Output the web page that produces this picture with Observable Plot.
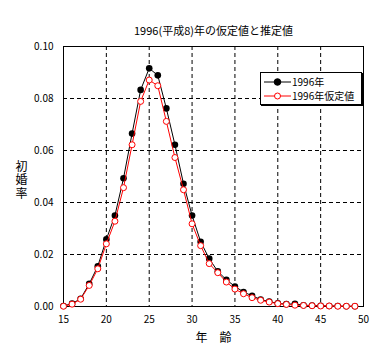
<!DOCTYPE html>
<html><head><meta charset="utf-8">
<script src="https://cdn.jsdelivr.net/npm/d3@7"></script>
<script src="https://cdn.jsdelivr.net/npm/@observablehq/plot@0.6"></script>
<style>
body{margin:0;background:#fff;}
#wrap{position:relative;width:378px;height:361px;font-family:"Noto Sans CJK JP",sans-serif;}
.legend{position:absolute;left:260px;top:72px;width:100px;height:31px;border:1px solid #000;box-shadow:1px 1px 0 #000;background:#fff;font-size:10px;}
.legend .row{position:absolute;left:0;height:14px;display:flex;align-items:center;}
.legend svg{display:block;flex:none;}
.legend span{margin-left:1px;white-space:nowrap;line-height:14px;display:block;}
</style></head><body><div id="wrap"></div>
<script>
const title = "1996(平成8)年の仮定値と推定値";
const yLabel = "初婚率";
const xLabel = "年　齢";
const seriesNames = ["1996年", "1996年仮定値"];
const ages = [15,16,17,18,19,20,21,22,23,24,25,26,27,28,29,30,31,32,33,34,35,36,37,38,39,40,41,42,43,44,45,46,47,48,49];
const v1996 = [0.0002,0.0011,0.0030,0.0087,0.0155,0.0258,0.0350,0.0493,0.0665,0.0833,0.0916,0.0889,0.0762,0.0622,0.0472,0.0350,0.0249,0.0184,0.0135,0.0103,0.0077,0.0056,0.0041,0.0027,0.0019,0.0012,0.0009,0.0010,0.0005,0.0004,0.0003,0.0002,0.0002,0.0001,0.0001];
const vAssumed = [0.0001,0.0009,0.0028,0.0081,0.0145,0.0241,0.0328,0.0457,0.0622,0.0789,0.0871,0.0849,0.0712,0.0573,0.0449,0.0318,0.0234,0.0165,0.0130,0.0094,0.0067,0.0049,0.0034,0.0024,0.0017,0.0011,0.0008,0.0005,0.0004,0.0003,0.0002,0.0002,0.0001,0.0001,0.0001];
const xTicks = [15,20,25,30,35,40,45,50];
const yTicks = [0,0.02,0.04,0.06,0.08,0.10];
const xGrid = [20,25,30,35,40,45];
const yGrid = [0.02,0.04,0.06,0.08];

const d1 = ages.map((a,i)=>({age:a, v:v1996[i]}));
const d2 = ages.map((a,i)=>({age:a, v:vAssumed[i]}));
const font = '"Noto Sans CJK JP", sans-serif';

const chart = Plot.plot({
  width:378, height:361, marginLeft:63, marginRight:15, marginTop:46, marginBottom:55,
  style:{fontFamily:font, fontSize:"10px", background:"#fff", color:"#000", overflow:"visible"},
  x:{domain:[15,50], ticks:xTicks, tickSize:0, tickPadding:9, tickFormat:d=>String(d), label:null},
  y:{domain:[0,0.1], ticks:yTicks, tickSize:0, tickPadding:10, tickFormat:d=>d.toFixed(2), label:null},
  marks:[
    Plot.ruleX(xGrid, {stroke:"#000", strokeDasharray:"4,3", strokeWidth:1}),
    Plot.ruleY(yGrid, {stroke:"#000", strokeDasharray:"4,3", strokeWidth:1}),
    Plot.frame({stroke:"#000", strokeWidth:1}),
    Plot.line(d1, {x:"age", y:"v", stroke:"#000", strokeWidth:1}),
    Plot.dot(d1, {x:"age", y:"v", fill:"#000", r:3.3}),
    Plot.line(d2, {x:"age", y:"v", stroke:"#ff0000", strokeWidth:1}),
    Plot.dot(d2, {x:"age", y:"v", fill:"#fff", stroke:"#ff0000", strokeWidth:1, r:3}),
    Plot.text([title], {frameAnchor:"top", dy:-15, lineAnchor:"middle", textAnchor:"middle", fontSize:11, fill:"#000"}),
    Plot.text([yLabel], {frameAnchor:"left", dx:-42, lineAnchor:"middle", textAnchor:"middle", fontSize:12, fill:"#000"}),
    Plot.text([xLabel], {frameAnchor:"bottom", dy:32, lineAnchor:"middle", textAnchor:"middle", fontSize:12, fill:"#000"})
  ]
});
// render the y-axis label vertically (top-to-bottom) like the reference
chart.querySelectorAll("text").forEach(t => {
  if (t.textContent === yLabel) {
    t.removeAttribute("dy");
    t.style.writingMode = "vertical-rl";
    t.style.letterSpacing = "1.3px";
  }
});
const wrap = document.getElementById("wrap");
wrap.appendChild(chart);

const legend = document.createElement("div");
legend.className = "legend";
const styles = [{stroke:"#000", fill:"#000", r:3.3},{stroke:"#ff0000", fill:"#fff", r:3}];
seriesNames.forEach((name,i)=>{
  const row = document.createElement("div");
  row.className = "row";
  row.style.top = (i===0 ? 2 : 16) + "px";
  const s = styles[i];
  row.innerHTML = `<svg width="30" height="14"><line x1="3" x2="30" y1="7" y2="7" stroke="${s.stroke}" stroke-width="1"/><circle cx="16.5" cy="7" r="${s.r}" fill="${s.fill}" stroke="${s.stroke}" stroke-width="1"/></svg><span>${name}</span>`;
  legend.appendChild(row);
});
wrap.appendChild(legend);
</script>
</body></html>
